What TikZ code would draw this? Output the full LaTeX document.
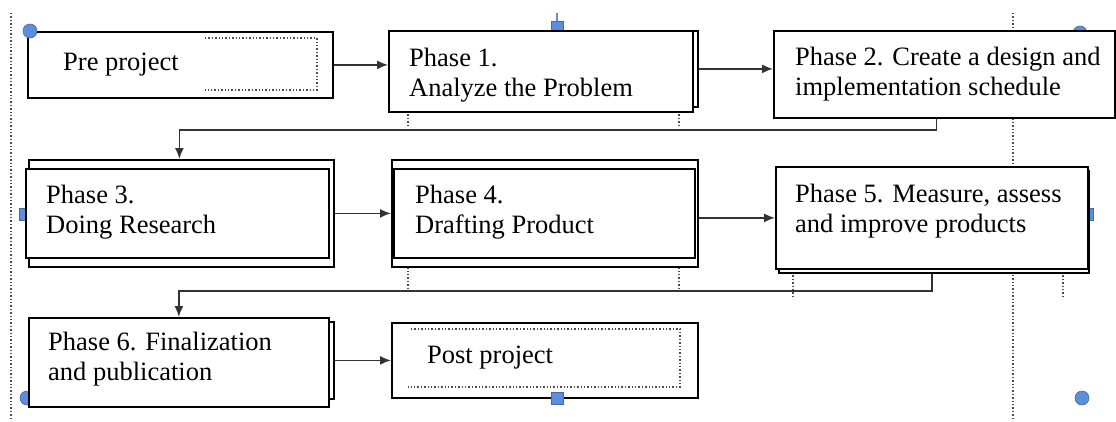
\documentclass[tikz,border=0pt]{standalone}
\usepackage{fontspec}
\setmainfont{Liberation Serif}
\usepackage{tikz}
\usetikzlibrary{arrows.meta}

\definecolor{handleblue}{HTML}{5B8EDC}

\tikzset{
  box/.style={draw, line width=1.8pt, fill=white, anchor=north west, inner sep=0pt},
  chu/.style={anchor=base west, inner sep=0pt, align=left, font=\fontsize{26.5}{30}\selectfont},
  noi/.style={line width=1.6pt, draw=black!80, -{Latex[length=11pt,width=9pt]}},
  cham/.style={dotted, line width=1.4pt, draw=black!70},
  moc/.style={fill=handleblue, draw=handleblue!75!black, line width=0.6pt}
}

\begin{document}
\begin{tikzpicture}[x=1pt, y=-1pt]
\useasboundingbox (0,0) rectangle (1116,421);

% Đường chấm dọc hai bên khung vẽ
\draw[cham] (11,13) -- (11,421);
\draw[cham] (1013,13) -- (1013,421);

% Các vạch chấm ngắn dưới khung
\foreach \x in {408,679} {
  \draw[cham] (\x,111) -- (\x,125);
  \draw[cham] (\x,257) -- (\x,290);
}
\draw[cham] (793,272) -- (793,296);
\draw[cham] (1063,272) -- (1063,296);

% Các điểm chọn bị khung che
\draw[handleblue, line width=1.2pt] (557,13) -- (557,22);
\filldraw[moc] (551,21) rectangle (563,33);
\filldraw[moc] (1080,33) circle (7pt);
\filldraw[moc] (19,208) rectangle (31,220);
\filldraw[moc] (1081,208) rectangle (1093,220);
\filldraw[moc] (27,398) circle (7pt);

% Hàng 1
\node[box, minimum width=305pt, minimum height=66pt] (pre) at (27,31) {};
\node[box, minimum width=305pt, minimum height=76pt] (p1back) at (392,30) {};
\node[box, minimum width=304pt, minimum height=81pt] (p1) at (388,30) {};
\node[box, minimum width=341pt, minimum height=87pt] (p2) at (773,30) {};

% Hàng 2
\node[box, minimum width=305pt, minimum height=107pt] (p3back) at (28,159) {};
\node[box, minimum width=303pt, minimum height=89pt] (p3) at (25,168) {};
\node[box, minimum width=306pt, minimum height=107pt] (p4back) at (391,159) {};
\node[box, minimum width=301pt, minimum height=89pt] (p4) at (393,168) {};
\node[box, minimum width=310pt, minimum height=102pt] (p5back) at (778,170) {};
\node[box, minimum width=312pt, minimum height=102pt] (p5) at (775,166) {};

% Hàng 3
\node[box, minimum width=302pt, minimum height=77pt] (p6back) at (31,321) {};
\node[box, minimum width=300pt, minimum height=89pt] (p6) at (28,317) {};
\node[box, minimum width=306pt, minimum height=75pt] (post) at (391,322) {};

% Khung chấm bên trong (hở cạnh trái)
\draw[cham] (205,38) -- (317,38) -- (317,90) -- (205,90);
\draw[cham] (411,329) -- (680,329) -- (680,387) -- (408,387);

% Các điểm chọn nằm trên
\filldraw[moc] (30,31) circle (7pt);
\filldraw[moc] (551,392) rectangle (563,404);
\filldraw[moc] (1082,398) circle (7pt);

% Mũi tên nối các giai đoạn
\draw[noi] (pre.east) -- (pre.east -| p1.west);
\draw[noi] (p1back.east) -- (p1back.east -| p2.west);
\draw[noi] ([xshift=-8pt]p2.south) -- ++(0,11) -| ([xshift=-2pt]p3back.north);
\draw[noi] (p3back.east) -- (p3back.east -| p4back.west);
\draw[noi] (p4back.east |- p5.west) -- (p5.west);
\draw[noi] ([xshift=-2pt]p5back.south) -- ++(0,17) -| (p6.north);
\draw[noi] (p6back.east) -- (p6back.east -| post.west);

% Nội dung chữ (toạ độ là đường chân dòng cuối)
\node[chu] (preT) at (63,70) {Pre project};
\node[chu] (p1T) at (409,96) {Phase 1.\\Analyze the Problem};
\node[chu] (p2T) at (795,95) {Phase 2. Create a design and\\implementation schedule};
\node[chu] (p3T) at (46,233) {Phase 3.\\Doing Research};
\node[chu] (p4T) at (415,233) {Phase 4.\\Drafting Product};
\node[chu] (p5T) at (795,232) {Phase 5. Measure, assess\\and improve products};
\node[chu] (p6T) at (48,380) {Phase 6. Finalization\\and publication};
\node[chu] (postT) at (427,363) {Post project};
\end{tikzpicture}
\end{document}
